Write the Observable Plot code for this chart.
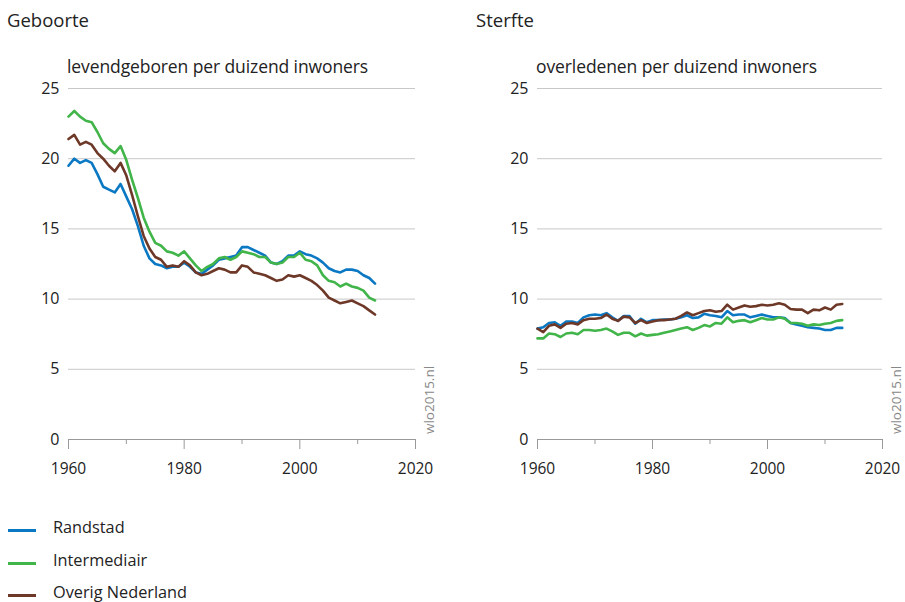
<!DOCTYPE html>
<html>
<head>
<meta charset="utf-8">
<script src="https://cdn.jsdelivr.net/npm/d3@7"></script>
<script src="https://cdn.jsdelivr.net/npm/@observablehq/plot@0.6"></script>
<style>
  html, body { margin: 0; padding: 0; background: #fff; }
  body { width: 905px; height: 602px; overflow: hidden; position: relative; font-family: "Open Sans", "Noto Sans", sans-serif; color: #222; }
  .abs { position: absolute; white-space: nowrap; line-height: 1; }
  .title { font-size: 18.5px; }
  .sub { font-size: 17.5px; letter-spacing: -0.1px; }
  .leg { font-size: 16.3px; }
  .legline { position: absolute; width: 28px; height: 3px; }
  .wm { position: absolute; font-size: 13.5px; line-height: 1; color: #888; transform-origin: left top; transform: rotate(-90deg); white-space: nowrap; }
</style>
</head>
<body>
<div id="root"></div>
<script>
const years = d3.range(1960, 2014);
const series = ["Randstad", "Intermediair", "Overig Nederland"];
const colors = ["#0b78c3", "#41b549", "#6d3828"];

const birthRandstad = [19.5,20.0,19.7,19.9,19.7,18.9,18.0,17.8,17.6,18.2,17.3,16.4,15.2,13.8,12.9,12.5,12.4,12.2,12.3,12.3,12.6,12.3,11.9,11.8,12.1,12.4,12.8,12.9,13.0,13.1,13.7,13.7,13.5,13.3,13.1,12.6,12.5,12.7,13.1,13.1,13.4,13.2,13.1,12.9,12.6,12.2,12.0,11.9,12.1,12.1,12.0,11.7,11.5,11.1];
const birthIntermediair = [23.0,23.4,23.0,22.7,22.6,21.9,21.1,20.7,20.4,20.9,19.9,18.5,17.2,15.8,14.8,14.0,13.8,13.4,13.3,13.1,13.4,12.9,12.4,12.0,12.3,12.5,12.9,13.0,12.8,13.0,13.4,13.3,13.2,13.0,13.0,12.6,12.5,12.6,13.0,13.0,13.3,12.8,12.7,12.4,11.7,11.3,11.2,10.9,11.1,10.9,10.8,10.6,10.1,9.9];
const birthOverig = [21.4,21.7,21.0,21.2,21.0,20.4,20.0,19.5,19.1,19.7,18.8,17.4,15.9,14.5,13.6,13.0,12.8,12.3,12.4,12.3,12.7,12.4,11.9,11.7,11.8,12.0,12.2,12.1,11.9,11.9,12.4,12.3,11.9,11.8,11.7,11.5,11.3,11.4,11.7,11.6,11.7,11.5,11.3,11.0,10.6,10.1,9.9,9.7,9.8,9.9,9.7,9.5,9.2,8.9];

const deathRandstad = [7.9,8.0,8.3,8.35,8.1,8.4,8.4,8.3,8.7,8.85,8.9,8.85,9.0,8.7,8.45,8.8,8.8,8.25,8.6,8.35,8.5,8.5,8.55,8.55,8.6,8.7,8.85,8.65,8.7,8.95,8.85,8.8,8.7,9.15,8.85,8.9,8.9,8.7,8.8,8.9,8.8,8.7,8.7,8.65,8.3,8.2,8.1,8.0,7.95,7.9,7.8,7.8,7.95,7.95];
const deathIntermediair = [7.2,7.2,7.55,7.5,7.3,7.55,7.6,7.5,7.8,7.8,7.75,7.8,7.9,7.7,7.45,7.6,7.6,7.35,7.55,7.4,7.45,7.5,7.6,7.7,7.8,7.9,8.0,7.8,7.95,8.15,8.05,8.3,8.25,8.7,8.35,8.45,8.5,8.35,8.5,8.65,8.55,8.55,8.7,8.6,8.3,8.3,8.25,8.1,8.2,8.15,8.25,8.3,8.45,8.5];
const deathOverig = [7.9,7.65,8.1,8.2,7.95,8.25,8.3,8.2,8.5,8.6,8.6,8.65,8.9,8.6,8.45,8.75,8.7,8.3,8.5,8.3,8.4,8.5,8.5,8.55,8.6,8.8,9.05,8.85,9.0,9.15,9.2,9.1,9.15,9.6,9.25,9.4,9.55,9.45,9.5,9.6,9.55,9.6,9.7,9.6,9.3,9.25,9.25,9.0,9.25,9.2,9.4,9.25,9.6,9.65];

const yTicks = [0, 5, 10, 15, 20, 25];
const xMajor = [1960, 1980, 2000, 2020];
const xMinor = [1970, 1990, 2010];

function toRows(arrs) {
  const rows = [];
  arrs.forEach((arr, i) => arr.forEach((v, j) => rows.push({year: years[j], value: v, series: series[i]})));
  return rows;
}

function panel(rows, width, ml, mr) {
  return Plot.plot({
    width, height: 490,
    marginLeft: ml, marginRight: mr, marginTop: 88, marginBottom: 51,
    style: {fontFamily: '"Open Sans", "Noto Sans", sans-serif', fontSize: "16px", color: "#222", background: "transparent"},
    x: {domain: [1960, 2020]},
    y: {domain: [0, 25]},
    color: {domain: series, range: colors},
    marks: [
      Plot.gridY(yTicks.filter(d => d > 0), {stroke: "#c8c8c8", strokeOpacity: 1, strokeWidth: 1}),
      Plot.axisY(yTicks, {tickSize: 0, tickPadding: 9, label: null, fontSize: 16}),
      Plot.ruleY([0], {stroke: "#999", strokeWidth: 1.2}),
      Plot.axisX(xMajor, {tickSize: 10, tickPadding: 13, stroke: "#999", label: null, tickFormat: d => String(d), fontSize: 15.5}),
      Plot.axisX(xMinor, {tickSize: 5, stroke: "#999", text: null, label: null}),
      Plot.line(rows, {x: "year", y: "value", stroke: "series", strokeWidth: 2.6, curve: "linear"})
    ]
  });
}

const root = document.getElementById("root");
function place(el, left, top) { el.style.position = "absolute"; el.style.left = left + "px"; el.style.top = top + "px"; root.appendChild(el); }

const left = panel(toRows([birthRandstad, birthIntermediair, birthOverig]), 452, 68, 37);
place(left, 0, 0);
const right = panel(toRows([deathRandstad, deathIntermediair, deathOverig]), 453, 85, 23);
place(right, 452, 0);

function text(cls, str, l, t) { const d = document.createElement("div"); d.className = "abs " + cls; d.textContent = str; place(d, l, t); return d; }
text("title", "Geboorte", 7, 10.5);
text("title", "Sterfte", 476, 10.5);
text("sub", "levendgeboren per duizend inwoners", 67, 57.5);
text("sub", "overledenen per duizend inwoners", 536, 57.5);

const wm1 = document.createElement("div"); wm1.className = "wm"; wm1.textContent = "wlo2015.nl"; place(wm1, 423, 434);
const wm2 = document.createElement("div"); wm2.className = "wm"; wm2.textContent = "wlo2015.nl"; place(wm2, 890, 434);

series.forEach((s, i) => {
  const ln = document.createElement("div"); ln.className = "legline"; ln.style.background = colors[i];
  place(ln, 8, 529 + i * 32.7);
  text("leg", s, 53, 519 + i * 32.7);
});
</script>
</body>
</html>
